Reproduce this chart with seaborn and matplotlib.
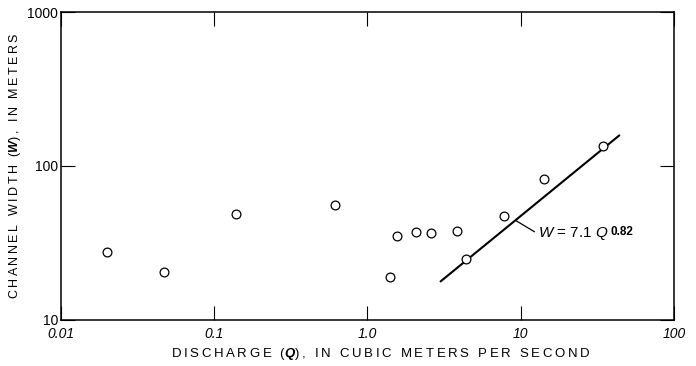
import numpy as np
import matplotlib
matplotlib.use('Agg')
import matplotlib.pyplot as plt
import seaborn as sns
import pandas as pd

# values
discharge = [0.020, 0.047, 0.138, 0.61, 1.40, 1.57, 2.07, 2.58, 3.86, 4.38, 7.8, 14.3, 34.6]
width = [27.8, 20.6, 48.6, 55.8, 19.0, 34.9, 37.1, 36.7, 38.0, 25.0, 47.3, 82.4, 135.5]

# fitted line W = 7.1 Q^0.82, endpoints as drawn
fit_q = [3.0, 44.0]
fit_w = [17.8, 158.0]

x_ticks = [0.01, 0.1, 1, 10, 100]
x_ticklabels = ['0.01', '0.1', '1.0', '10', '100']
y_ticks = [10, 100, 1000]
y_ticklabels = ['10', '100', '1000']

sns.set_style('ticks')
plt.rcParams['font.family'] = ['Liberation Sans', 'DejaVu Sans']
plt.rcParams['mathtext.fontset'] = 'custom'
plt.rcParams['mathtext.rm'] = 'Liberation Sans'
plt.rcParams['mathtext.it'] = 'Liberation Sans:italic'
plt.rcParams['mathtext.bf'] = 'Liberation Sans:bold'
plt.rcParams['mathtext.bfit'] = 'Liberation Sans:italic:bold'
for key in ['text.color', 'axes.labelcolor', 'xtick.color', 'ytick.color']:
    plt.rcParams[key] = 'black'


def spaced(s):
    # the original lettering is tracked out, so pad with thin spaces
    return '\u2009'.join(s)


df = pd.DataFrame({'Q': discharge, 'W': width})
fit = pd.DataFrame({'Q': fit_q, 'W': fit_w})

fig = plt.figure(figsize=(6.96, 3.66), dpi=100)
ax = fig.add_axes([0.0876, 0.1257, 0.8807, 0.8415])

sns.lineplot(data=fit, x='Q', y='W', ax=ax, color='black', linewidth=1.5)
sns.scatterplot(data=df, x='Q', y='W', ax=ax, s=40, facecolor='white',
                edgecolor='black', linewidth=0.9, zorder=3)

ax.set_xscale('log')
ax.set_yscale('log')
ax.set_xlim(0.01, 100)
ax.set_ylim(10, 1000)
ax.set_xticks(x_ticks)
ax.set_xticklabels(x_ticklabels, fontstyle='italic')
ax.set_yticks(y_ticks)
ax.set_yticklabels(y_ticklabels)
ax.minorticks_off()
ax.tick_params(which='major', direction='in', length=10, width=0.8,
               top=True, right=True, labelsize=10)
ax.tick_params(axis='x', pad=5)
ax.tick_params(axis='y', pad=2)

for sp in ax.spines.values():
    sp.set_visible(True)
    sp.set_linewidth(1.1)
    sp.set_color('black')

ax.set_xlabel(spaced('DISCHARGE (') + r'$\mathbfit{Q}$' +
              spaced('), IN CUBIC METERS PER SECOND'), fontsize=9.5)
ax.xaxis.set_label_coords(0.521, -0.085)
ax.set_ylabel(spaced('CHANNEL WIDTH (') + r'$\mathbfit{W}$' +
              spaced('), IN METERS'), fontsize=9)
ax.yaxis.set_label_coords(-0.062, 0.5)

# equation label with leader line
ax.plot([9.3, 12.3], [44.2, 37.4], color='black', linewidth=0.9)
eq = ax.text(13.0, 36.2, r'$\mathit{W}$ = 7.1 $\mathit{Q}$',
             fontsize=11, ha='left', va='center')
ax.annotate('0.82', xy=(1, 0.62), xycoords=eq, xytext=(1.5, 0),
            textcoords='offset points', fontsize=8.5, fontweight='bold',
            ha='left', va='center')

fig.savefig('out.png', dpi=100)
